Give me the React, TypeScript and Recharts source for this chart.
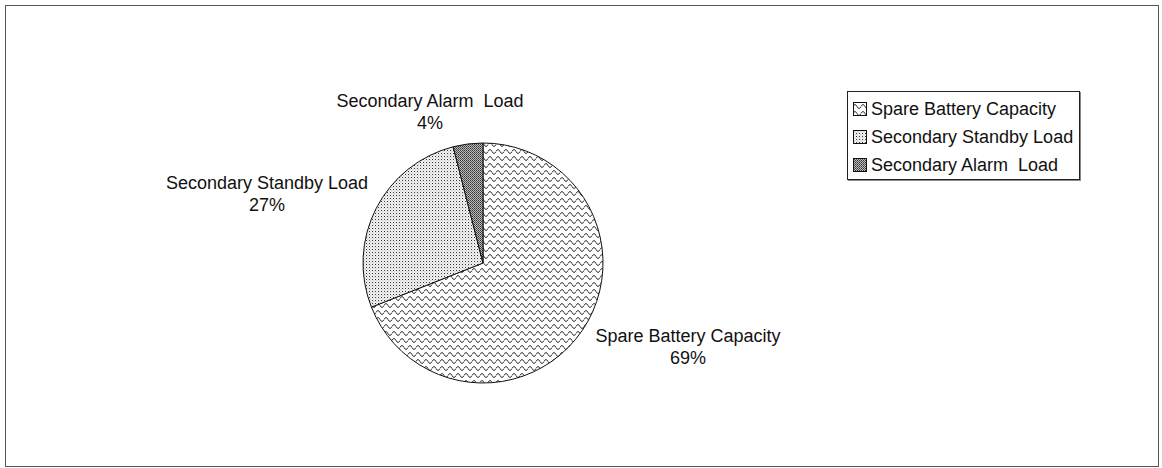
import { PieChart, Pie, Cell, Legend } from "recharts";

const categories: string[] = [
  "Spare Battery Capacity",
  "Secondary Standby Load",
  "Secondary Alarm  Load",
];

const shares: number[] = [69, 27, 4];

const patternIds: string[] = ["wavePattern", "finePattern", "densePattern"];

// label block centre, relative to pie centre (Excel "best fit" placement)
const labelNudge: [number, number][] = [
  [205, 84],
  [-216, -69],
  [-53, -151],
];

const pieData = categories.map((name, i) => ({ name, value: shares[i] }));

const FONT = "'Liberation Sans', Arial, sans-serif";

const PatternDefs = () => (
  <svg width={0} height={0} style={{ position: "absolute" }}>
    <defs>
      <pattern id="wavePattern" width={8} height={7} patternUnits="userSpaceOnUse">
        <rect width={8} height={7} fill="#ffffff" />
        <path
          d="M0 4.5 Q2 0.5 4 4.5 T8 4.5"
          fill="none"
          stroke="#222"
          strokeWidth={0.9}
        />
      </pattern>
      <pattern id="finePattern" width={3} height={3} patternUnits="userSpaceOnUse">
        <rect width={3} height={3} fill="#f2f2f2" />
        <rect x={0} y={0} width={1} height={1} fill="#333" />
        <rect x={1.5} y={1.5} width={0.8} height={0.8} fill="#888" />
      </pattern>
      <pattern id="densePattern" width={2} height={2} patternUnits="userSpaceOnUse">
        <rect width={2} height={2} fill="#bdbdbd" />
        <rect x={0} y={0} width={1} height={1} fill="#333" />
        <rect x={1} y={1} width={1} height={1} fill="#555" />
      </pattern>
    </defs>
  </svg>
);

const renderLabel = (props: any) => {
  const { cx, cy, index, percent, name } = props;
  const [dx, dy] = labelNudge[index];
  const x = cx + dx;
  const y = cy + dy;
  return (
    <text
      x={x}
      y={y}
      textAnchor="middle"
      fill="#111"
      fontSize={18}
      fontFamily={FONT}
      style={{ whiteSpace: "pre" }}
    >
      <tspan x={x} y={y - 11} dominantBaseline="central">
        {name}
      </tspan>
      <tspan x={x} y={y + 11} dominantBaseline="central">
        {`${Math.round(percent * 100)}%`}
      </tspan>
    </text>
  );
};

const LegendBox = () => (
  <div
    style={{
      border: "1px solid #222",
      boxShadow: "1px 1px 0 #888",
      background: "#fff",
      width: 231,
      height: 84,
      boxSizing: "content-box",
      fontFamily: FONT,
      fontSize: 18,
      color: "#111",
      paddingTop: 3,
    }}
  >
    {categories.map((name, i) => (
      <div
        key={name}
        style={{ display: "flex", alignItems: "center", height: 28, whiteSpace: "pre" }}
      >
        <svg width={14} height={14} style={{ marginLeft: 5, marginRight: 4 }}>
          <rect
            x={0.5}
            y={0.5}
            width={13}
            height={13}
            fill={`url(#${patternIds[i]})`}
            stroke="#111"
            strokeWidth={1}
          />
        </svg>
        <span>{name}</span>
      </div>
    ))}
  </div>
);

const App = () => {
  return (
    <div
      style={{
        position: "absolute",
        left: 0,
        top: 0,
        width: 1162,
        height: 468,
        background: "#fff",
      }}
    >
      <PatternDefs />
      {/* outer frame */}
      <div
        style={{
          position: "absolute",
          left: 5,
          top: 5,
          width: 1152,
          height: 460,
          border: "1px solid #555",
        }}
      />
      <PieChart
        width={1162}
        height={468}
        margin={{ top: 0, right: 0, bottom: 0, left: 0 }}
      >
        <Pie
          data={pieData}
          dataKey="value"
          nameKey="name"
          cx={483}
          cy={263}
          outerRadius={120}
          startAngle={90}
          endAngle={-270}
          stroke="#111"
          strokeWidth={1}
          label={renderLabel}
          labelLine={false}
          isAnimationActive={false}
        >
          {pieData.map((d, i) => (
            <Cell key={d.name} fill={`url(#${patternIds[i]})`} />
          ))}
        </Pie>
        <Legend
          layout="vertical"
          align="right"
          verticalAlign="top"
          content={() => <LegendBox />}
          wrapperStyle={{ left: 847, top: 91, width: 233, right: "auto" }}
        />
      </PieChart>
    </div>
  );
};

export default App;
